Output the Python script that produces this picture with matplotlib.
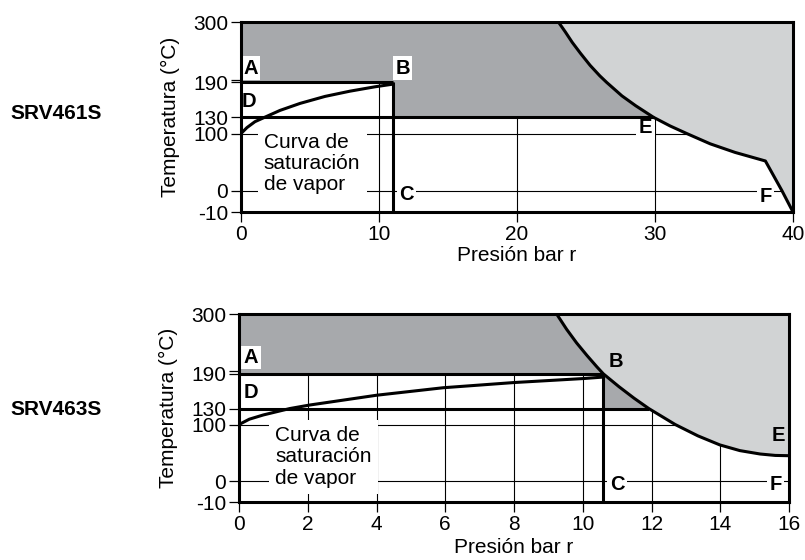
import matplotlib.pyplot as plt
import numpy as np

plt.rcParams["font.family"] = ["Liberation Sans", "DejaVu Sans"]
plt.rcParams["font.size"] = 15

DARK_GRAY = "#a7a9ac"
LIGHT_GRAY = "#d1d3d4"

# temperature axis is not linear: each tick sits at a fixed share of the axis height
T_TICKS = [-10, 0, 100, 130, 190, 300]
T_TICK_LABELS = ["-10", "0", "100", "130", "190", "300"]
T_TICK_POS = [0.0, 0.112, 0.413, 0.498, 0.682, 1.0]
T_HIGH = 190
T_LOW = 130

# SRV461S
P_TICKS_461 = [0, 10, 20, 30, 40]
SAT_P_461 = [0, 0.43, 1.01, 1.7, 2.83, 4.28, 6.09, 7.9, 9.71, 11.0]
SAT_T_461 = [100, 111, 122, 130, 142, 154, 166, 175, 182.5, 187]
LIM_P_461 = [23.0, 23.5, 24.0, 24.6, 25.3, 26.0, 26.5, 27.6, 28.6, 29.9, 31.1, 32.3,
             34.0, 35.8, 38.0, 39.2, 40.0]
LIM_T_461 = [300, 282, 263, 243, 221, 202, 190, 167, 150, 130, 114, 100,
             82, 67, 52, 0, -10]
B_P_461 = 11.0

# SRV463S
P_TICKS_463 = [0, 2, 4, 6, 8, 10, 12, 14, 16]
SAT_P_463 = [0, 0.3, 0.71, 1.48, 2.05, 4.0, 5.94, 8.0, 10.04, 10.6]
SAT_T_463 = [100, 110, 118, 130, 136, 153, 166, 175, 182, 184.5]
LIM_P_463 = [9.24, 9.53, 9.82, 10.12, 10.41, 10.6, 11.05, 11.49, 11.92, 12.69,
             13.35, 13.99, 14.57, 15.16, 15.6, 16.0]
LIM_T_463 = [300, 272, 247, 224, 203, 190, 168, 148, 130, 100,
             80, 64, 54, 48, 45.5, 45]
B_P_463 = 10.6


def _scale_funcs():
    """
    Piecewise linear mapping temperature -> axis share, extended past the ends.
    """
    lo_slope = (T_TICK_POS[1] - T_TICK_POS[0]) / (T_TICKS[1] - T_TICKS[0])
    hi_slope = (T_TICK_POS[-1] - T_TICK_POS[-2]) / (T_TICKS[-1] - T_TICKS[-2])
    t_ext = [-2000] + T_TICKS + [2000]
    s_ext = ([T_TICK_POS[0] - lo_slope * (T_TICKS[0] + 2000)] + T_TICK_POS
             + [T_TICK_POS[-1] + hi_slope * (2000 - T_TICKS[-1])])

    def forward(t):
        return np.interp(t, t_ext, s_ext)

    def inverse(s):
        return np.interp(s, s_ext, t_ext)

    return forward, inverse


def draw_panel(ax, p_ticks, sat_p, sat_t, lim_p, lim_t, b_p, letters, curve_text_xy, xlabel_y):
    lim_p = np.asarray(lim_p)
    lim_t = np.asarray(lim_t)
    p_max = p_ticks[-1]
    t_min, t_max = T_TICKS[0], T_TICKS[-1]

    ax.set_yscale("function", functions=_scale_funcs())
    ax.set_xlim(0, p_max)
    ax.set_ylim(t_min, t_max)

    def curve_t(p):
        return np.interp(p, lim_p, lim_t)

    def curve_p(t):
        return np.interp(t, lim_t[::-1], lim_p[::-1])

    # shaded regions
    hot = lim_t >= T_LOW
    ax.fill_betweenx(lim_t[hot], 0, lim_p[hot], color=DARK_GRAY, lw=0, zorder=1)
    ax.fill_betweenx(lim_t, lim_p, p_max, color=LIGHT_GRAY, lw=0, zorder=1)
    ax.fill_between([0, b_p], T_LOW, T_HIGH, color="white", lw=0, zorder=1.5)

    # thin grid lines
    for p in p_ticks[1:-1]:
        top = T_HIGH if p < b_p else min(T_LOW, curve_t(p))
        ax.vlines(p, t_min, top, color="black", lw=0.8, zorder=2)
    for t in (100, 0):
        ax.hlines(t, 0, curve_p(t), color="black", lw=0.8, zorder=2)

    # thick lines
    ax.plot(sat_p, sat_t, color="black", lw=2.2, zorder=5)
    ax.plot(lim_p, lim_t, color="black", lw=2.2, zorder=5)
    ax.hlines(T_HIGH, 0, b_p, color="black", lw=2.2, zorder=5)
    ax.vlines(b_p, t_min, T_HIGH, color="black", lw=2.2, zorder=5)
    ax.hlines(T_LOW, 0, curve_p(T_LOW), color="black", lw=2.2, zorder=5)

    ax.text(curve_text_xy[0], curve_text_xy[1], "Curva de\nsaturación\nde vapor",
            ha="left", va="center", linespacing=1.15, zorder=4,
            bbox=dict(boxstyle="square,pad=0.3", fc="white", ec="none"))

    for letter, x, y, boxed in letters:
        box = dict(boxstyle="square,pad=0.12", fc="white", ec="none") if boxed else None
        ax.text(x, y, letter, ha="center", va="center", fontsize=14.5,
                fontweight="bold", zorder=4, bbox=box)

    ax.set_xticks(p_ticks)
    ax.set_yticks(T_TICKS, T_TICK_LABELS)
    ax.set_yticks([195], minor=True)
    ax.tick_params(which="both", direction="out", length=7.2, width=0.9, pad=2.0,
                   top=False, right=False)
    for spine in ax.spines.values():
        spine.set_linewidth(2.2)
        spine.set_zorder(6)

    ax.set_ylabel("Temperatura (°C)")
    ax.set_xlabel("Presión bar r")
    ax.yaxis.set_label_coords(-0.111, 0.5)
    ax.xaxis.set_label_coords(0.5, xlabel_y)


fig = plt.figure(figsize=(8.05, 5.6), dpi=100)

ax1 = fig.add_axes([241 / 805, 1 - 212 / 560, 552 / 805, 190 / 560])
draw_panel(
    ax1, P_TICKS_461, SAT_P_461, SAT_T_461, LIM_P_461, LIM_T_461, B_P_461,
    letters=[("A", 0.7, 216, True), ("B", 11.7, 216, True), ("D", 0.6, 157, False),
             ("C", 12.0, -2, True), ("E", 29.3, 111, True), ("F", 38.0, -2.5, True)],
    curve_text_xy=(1.65, 48),
    xlabel_y=-0.18,
)

ax2 = fig.add_axes([239 / 805, 1 - 502.3 / 560, 550 / 805, 188.3 / 560])
draw_panel(
    ax2, P_TICKS_463, SAT_P_463, SAT_T_463, LIM_P_463, LIM_T_463, B_P_463,
    letters=[("A", 0.35, 220, True), ("B", 10.97, 213, False), ("D", 0.35, 157, False),
             ("C", 11.0, -1.5, True), ("E", 15.69, 80, False), ("F", 15.62, -1.5, True)],
    curve_text_xy=(1.05, 43),
    xlabel_y=-0.19,
)

fig.text(10 / 805, 1 - 119.3 / 560, "SRV461S", fontweight="bold", va="baseline")
fig.text(10 / 805, 1 - 415 / 560, "SRV463S", fontweight="bold", va="baseline")

fig.savefig("out.png", dpi=100)
